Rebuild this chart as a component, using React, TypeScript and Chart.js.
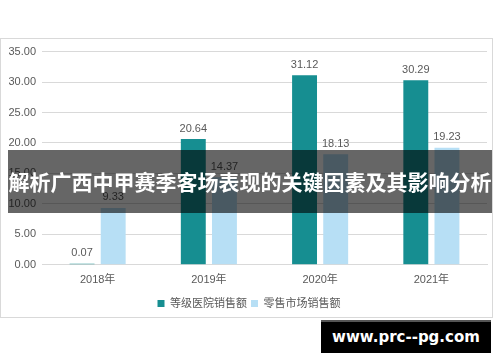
import React, { useEffect, useRef } from "react";
import { Chart, registerables } from "chart.js";

Chart.register(...registerables);

const categories = ["2018年", "2019年", "2020年", "2021年"];
const hospitalSales = [0.07, 20.64, 31.12, 30.29];
const retailSales = [9.33, 14.37, 18.13, 19.23];
const seriesNames = ["等级医院销售额", "零售市场销售额"];
const yTicks = [0, 5, 10, 15, 20, 25, 30, 35];
const bannerText = "解析广西中甲赛季客场表现的关键因素及其影响分析";
const watermarkText = "www.prc--pg.com";

const FONT = "'Liberation Sans', 'Noto Sans CJK SC', sans-serif";

const dataLabelPlugin = {
  id: "dataLabels",
  afterDatasetsDraw(chart: any) {
    const ctx = chart.ctx;
    ctx.save();
    ctx.font = `11px ${FONT}`;
    ctx.fillStyle = "#595959";
    ctx.textAlign = "center";
    ctx.textBaseline = "bottom";
    chart.data.datasets.forEach((ds: any, i: number) => {
      const meta = chart.getDatasetMeta(i);
      meta.data.forEach((bar: any, j: number) => {
        ctx.fillText(Number(ds.data[j]).toFixed(2), bar.x, bar.y - 5);
      });
    });
    ctx.restore();
  },
};

const legendShiftPlugin = {
  id: "legendShift",
  afterLayout(chart: any) {
    if (chart.legend) {
      chart.legend.top += 6;
      chart.legend.bottom += 6;
      chart.legend.left += 5;
      chart.legend.right += 5;
    }
  },
};

export default function App() {
  const ref = useRef<HTMLCanvasElement>(null);
  useEffect(() => {
    const chart = new Chart(ref.current!, {
      type: "bar",
      data: {
        labels: categories,
        datasets: [
          { label: seriesNames[0], data: hospitalSales, backgroundColor: "#168e91", minBarLength: 1 },
          { label: seriesNames[1], data: retailSales, backgroundColor: "#b7dff5" },
        ],
      },
      options: {
        animation: false,
        responsive: false,
        maintainAspectRatio: false,
        devicePixelRatio: 1,
        categoryPercentage: 0.56,
        barPercentage: 0.8,
        layout: { padding: { left: 0, right: 5, top: 6, bottom: 2 } },
        plugins: {
          tooltip: { enabled: false },
          legend: {
            position: "bottom",
            labels: {
              boxWidth: 7,
              boxHeight: 7,
              padding: 4,
              color: "#595959",
              font: { size: 11, family: FONT },
            },
          },
        },
        scales: {
          x: {
            grid: { display: false },
            border: { color: "#d9d9d9" },
            ticks: { color: "#595959", font: { size: 11, family: FONT }, padding: 1 },
          },
          y: {
            min: 0,
            max: 35,
            afterBuildTicks: (scale: any) => {
              scale.ticks = yTicks.map((v) => ({ value: v }));
            },
            afterFit: (scale: any) => {
              scale.width = 41;
            },
            grid: { color: "#d9d9d9", drawTicks: false },
            border: { display: false },
            ticks: {
              color: "#595959",
              font: { size: 11, family: FONT },
              padding: 6,
              callback: (v: any) => Number(v).toFixed(2),
            },
          },
        },
      },
      plugins: [dataLabelPlugin, legendShiftPlugin],
    });
    return () => chart.destroy();
  }, []);

  return (
    <div style={{ position: "absolute", left: 0, top: 0, width: 500, height: 362, background: "#fff", overflow: "hidden" }}>
      <div
        style={{
          position: "absolute",
          left: 0,
          top: 38,
          width: 491,
          height: 278,
          border: "1px solid #d9d9d9",
        }}
      >
        <canvas
          ref={ref}
          width={491}
          height={276}
          style={{ display: "block", position: "absolute", left: 0, top: 0 }}
        />
      </div>
      <div
        style={{
          position: "absolute",
          left: 8,
          top: 150,
          width: 484,
          height: 63,
          background: "rgba(0,0,0,0.6)",
          color: "#fff",
          fontFamily: "'Noto Sans CJK SC', sans-serif",
          fontWeight: 700,
          fontSize: 21,
          lineHeight: "63px",
          textAlign: "center",
          whiteSpace: "nowrap",
          letterSpacing: 0,
        }}
      >
        {bannerText}
      </div>
      <div
        style={{
          position: "absolute",
          left: 321,
          top: 320,
          width: 170,
          height: 33,
          background: "#000",
          borderTop: "2px solid #555",
          boxSizing: "border-box",
          color: "#fff",
          fontFamily: "'DejaVu Sans', sans-serif",
          fontWeight: 700,
          fontSize: 15,
          lineHeight: "31px",
          textAlign: "center",
          whiteSpace: "nowrap",
        }}
      >
        {watermarkText}
      </div>
    </div>
  );
}
